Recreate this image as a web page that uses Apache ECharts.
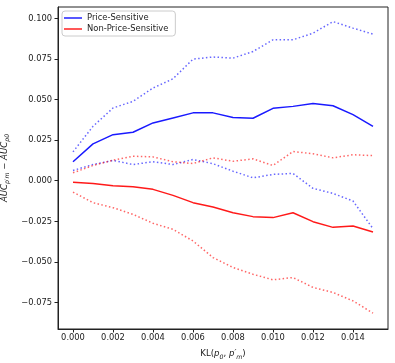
<!DOCTYPE html>
<html>
<head>
<meta charset="utf-8">
<script src="https://cdn.jsdelivr.net/npm/echarts@6/dist/echarts.min.js"></script>
<style>
  html, body { margin: 0; padding: 0; background: #fff; }
  #chart { width: 395px; height: 363px; }
</style>
</head>
<body>
<div id="chart"></div>
<script>
// KL divergence values on the x axis
const klValues = [0.000, 0.001, 0.002, 0.003, 0.004, 0.005, 0.006, 0.007,
  0.008, 0.009, 0.010, 0.011, 0.012, 0.013, 0.014, 0.015]

// Price-Sensitive: mean and band
const psMean = [0.0117, 0.0227, 0.0284, 0.0299, 0.0356, 0.0387, 0.0418, 0.0418,
  0.0390, 0.0385, 0.0446, 0.0458, 0.0475, 0.0462, 0.0407, 0.0335]
const psUpper = [0.0178, 0.0335, 0.0448, 0.0489, 0.0571, 0.0628, 0.0749, 0.0762,
  0.0755, 0.0796, 0.0868, 0.0868, 0.0909, 0.0980, 0.0940, 0.0903]
const psLower = [0.0063, 0.0100, 0.0125, 0.0100, 0.0117, 0.0100, 0.0131, 0.0105,
  0.0059, 0.0018, 0.0039, 0.0045, -0.0047, -0.0078, -0.0125, -0.0295]

// Non-Price-Sensitive: mean and band
const npsMean = [-0.0009, -0.0017, -0.0031, -0.0037, -0.0053, -0.0090, -0.0135, -0.0162,
  -0.0197, -0.0221, -0.0227, -0.0197, -0.0252, -0.0287, -0.0279, -0.0316]
const npsUpper = [0.0049, 0.0094, 0.0127, 0.0151, 0.0147, 0.0117, 0.0106, 0.0141,
  0.0120, 0.0135, 0.0094, 0.0180, 0.0166, 0.0141, 0.0160, 0.0155]
const npsLower = [-0.0070, -0.0135, -0.0166, -0.0207, -0.0262, -0.0299, -0.0371, -0.0473,
  -0.0534, -0.0576, -0.0610, -0.0596, -0.0657, -0.0688, -0.0740, -0.0815]

const xTicks = [0.000, 0.002, 0.004, 0.006, 0.008, 0.010, 0.012, 0.014]
const yTicks = [-0.075, -0.050, -0.025, 0.000, 0.025, 0.050, 0.075, 0.100]

const FONT = '"DejaVu Sans", sans-serif'

function pairs(ys) {
  return klValues.map((x, i) => [x, ys[i]])
}
function fmt(v) {
  return v.toFixed(3).replace('-', '\u2212')
}
function makeSeries(name, values, color, dotted) {
  return {
    name: name,
    type: 'line',
    data: pairs(values),
    showSymbol: false,
    symbol: 'none',
    silent: true,
    itemStyle: { color: color },
    lineStyle: {
      color: color,
      width: 1.5,
      opacity: dotted ? 0.6 : 0.9,
      type: dotted ? [1.5, 2.4] : 'solid'
    },
    z: dotted ? 2 : 3
  }
}

const richText = {
  n: { fontFamily: FONT, fontSize: 8.6, color: '#222', lineHeight: 12, verticalAlign: 'middle' },
  i: { fontFamily: FONT, fontSize: 8.6, fontStyle: 'italic', color: '#222', lineHeight: 12, verticalAlign: 'middle' },
  s: { fontFamily: FONT, fontSize: 6.2, fontStyle: 'italic', color: '#222', lineHeight: 12, verticalAlign: 'bottom' }
}

const chart = echarts.init(document.getElementById('chart'), null, { renderer: 'canvas' })
const option = {
  backgroundColor: '#fff',
  animation: false,
  grid: {
    left: 58,
    right: 7,
    top: 7,
    bottom: 34,
    containLabel: false,
    outerBoundsMode: 'none',
    show: true,
    borderColor: '#222',
    borderWidth: 1,
    backgroundColor: 'transparent'
  },
  legend: {
    data: [
      { name: 'Price-Sensitive', itemStyle: { color: '#2020ff' } },
      { name: 'Non-Price-Sensitive', itemStyle: { color: '#ff2020' } }
    ],
    orient: 'vertical',
    left: 62,
    top: 11,
    icon: 'rect',
    itemWidth: 18,
    itemHeight: 1.5,
    itemGap: 3,
    itemTextGap: 6,
    padding: [3, 7, 3, 2],
    borderColor: '#ccc',
    borderWidth: 1,
    borderRadius: 3,
    backgroundColor: '#fff',
    textStyle: { fontFamily: FONT, fontSize: 8.4, color: '#222' }
  },
  xAxis: {
    type: 'value',
    min: -0.00075,
    max: 0.01575,
    splitLine: { show: false },
    axisLine: { show: true, onZero: false, lineStyle: { color: '#222', width: 1 } },
    axisTick: {
      show: true,
      inside: false,
      length: 3.5,
      customValues: xTicks,
      lineStyle: { color: '#222' }
    },
    axisLabel: {
      customValues: xTicks,
      formatter: fmt,
      margin: 5,
      fontFamily: FONT,
      fontSize: 8.3,
      color: '#222'
    },
    name: '{n|KL(}{i|p}{s|0}{n|, }{i|p′}{s|m}{n|)}',
    nameLocation: 'middle',
    nameGap: 19,
    nameTextStyle: { fontFamily: FONT, fontSize: 8.6, color: '#222', rich: richText }
  },
  yAxis: {
    type: 'value',
    min: -0.0913,
    max: 0.107,
    splitLine: { show: false },
    axisLine: { show: true, onZero: false, lineStyle: { color: '#222', width: 1 } },
    axisTick: {
      show: true,
      inside: false,
      length: 3.5,
      customValues: yTicks,
      lineStyle: { color: '#222' }
    },
    axisLabel: {
      customValues: yTicks,
      formatter: fmt,
      margin: 6,
      fontFamily: FONT,
      fontSize: 8.3,
      color: '#222'
    },
    name: '{i|AUC}{s|p′m}{n| − }{i|AUC}{s|p0}',
    nameLocation: 'middle',
    nameRotate: 90,
    nameGap: 36,
    nameTextStyle: { fontFamily: FONT, fontSize: 8.6, color: '#222', rich: richText }
  },
  series: [
    makeSeries('Price-Sensitive', psMean, '#0000ff', false),
    makeSeries('Price-Sensitive upper', psUpper, '#0000ff', true),
    makeSeries('Price-Sensitive lower', psLower, '#0000ff', true),
    makeSeries('Non-Price-Sensitive', npsMean, '#ff0000', false),
    makeSeries('Non-Price-Sensitive upper', npsUpper, '#ff0000', true),
    makeSeries('Non-Price-Sensitive lower', npsLower, '#ff0000', true)
  ]
}
chart.setOption(option)
</script>
</body>
</html>
